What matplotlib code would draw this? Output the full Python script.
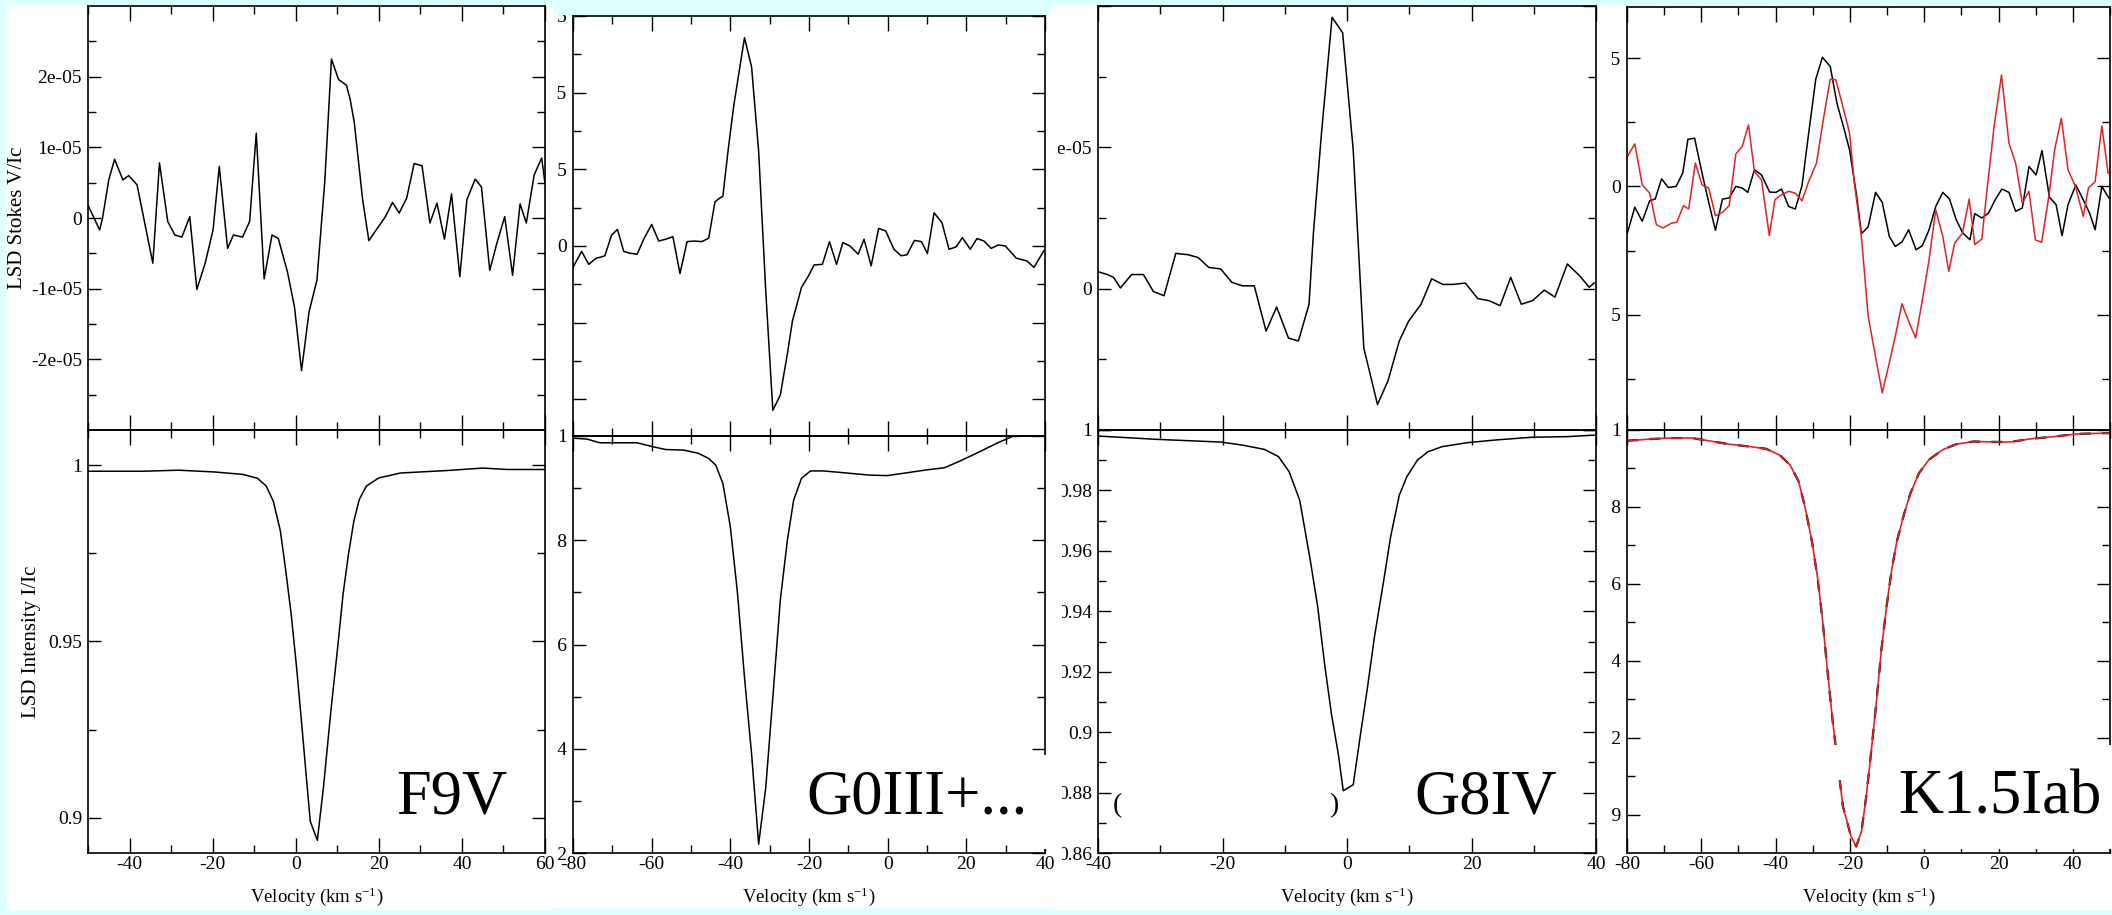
import numpy as np
import matplotlib
matplotlib.use('Agg')
import matplotlib.pyplot as plt
from matplotlib.patches import Rectangle
from matplotlib.transforms import Bbox, TransformedBbox
from matplotlib.ticker import FixedLocator

plt.rcParams['font.family'] = ['Liberation Serif', 'DejaVu Serif']
plt.rcParams['mathtext.fontset'] = 'custom'
plt.rcParams['mathtext.rm'] = 'Liberation Serif'
plt.rcParams['mathtext.it'] = 'Liberation Serif:italic'

# ---------------- data (Stokes V in units of 1e-5) ----------------
# F9V
f9v_v_vel = [-50.0, -48.7, -47.2, -46.5, -45.0, -43.6, -41.6, -40.2, -38.2, -34.4, -32.8, -30.8, -29.1,
             -27.4, -25.5, -23.8, -21.8, -19.9, -18.4, -16.4, -15.0, -12.8, -11.1, -9.5, -7.6, -5.7,
             -4.2, -2.0, -0.3, 1.4, 3.2, 5.1, 7.0, 8.6, 10.3, 12.2, 13.1, 14.1, 16.1, 17.6, 19.6,
             21.6, 23.3, 24.9, 26.7, 28.5, 30.4, 32.3, 34.0, 35.8, 37.5, 39.5, 41.2, 43.2, 44.7,
             46.7, 48.4, 50.3, 52.2, 54.0, 55.5, 57.4, 59.2, 60.0]
f9v_stokes = [0.18, 0.02, -0.17, 0.0, 0.54, 0.83, 0.54, 0.60, 0.47, -0.64, 0.78, -0.05, -0.24,
              -0.27, 0.02, -1.01, -0.64, -0.17, 0.73, -0.43, -0.24, -0.27, -0.05, 1.20, -0.86, -0.24,
              -0.29, -0.76, -1.26, -2.16, -1.33, -0.88, 0.52, 2.25, 1.96, 1.88, 1.68, 1.35, 0.26, -0.32,
              -0.15, 0.02, 0.22, 0.07, 0.28, 0.77, 0.74, -0.07, 0.21, -0.30, 0.34, -0.83, 0.26, 0.55,
              0.44, -0.74, -0.36, 0.02, -0.81, 0.20, -0.07, 0.61, 0.85, 0.49]
f9v_i_vel = [-50.0, -36.8, -28.2, -19.6, -12.7, -9.2, -7.1, -5.4, -3.7, -2.4, -1.1, 0.2, 1.5, 2.4,
             3.5, 5.2, 6.7, 8.4, 10.1, 11.4, 12.7, 14.0, 15.3, 17.0, 20.0, 25.2, 36.4, 45.0, 51.0, 60.0]
f9v_int = [0.9983, 0.9983, 0.9986, 0.9981, 0.9974, 0.9963, 0.9941, 0.9898, 0.9814, 0.9701, 0.9578,
           0.9427, 0.9258, 0.9136, 0.8990, 0.8936, 0.9089, 0.9296, 0.9484, 0.9635, 0.9748, 0.9842,
           0.9903, 0.9941, 0.9964, 0.9978, 0.9985, 0.9992, 0.9988, 0.9988]

# G0III+...
g0_v_vel = [-80.0, -77.8, -76.0, -74.1, -72.8, -71.9, -70.2, -68.7, -67.1, -65.5, -63.7, -61.9, -60.0,
            -58.2, -56.4, -54.6, -52.8, -51.0, -49.1, -47.3, -45.5, -43.9, -42.8, -41.9, -40.5, -39.1,
            -36.4, -34.6, -32.8, -31.0, -29.2, -27.3, -25.5, -24.2, -21.9, -20.1, -18.7, -16.6, -14.8,
            -13.0, -11.4, -9.6, -7.5, -6.0, -4.2, -2.3, -0.5, 1.6, 3.4, 4.9, 6.8, 8.6, 10.1, 11.8,
            13.8, 15.6, 17.4, 19.0, 21.0, 22.7, 24.5, 26.3, 28.1, 29.9, 32.7, 35.4, 37.2, 39.7]
g0_stokes = [-0.70, -0.18, -0.60, -0.40, -0.36, -0.32, 0.35, 0.54, -0.18, -0.24, -0.27, 0.25, 0.70,
             0.16, 0.22, 0.30, -0.90, 0.14, 0.16, 0.14, 0.25, 1.44, 1.55, 1.62, 3.19, 4.60, 6.79, 5.84,
             3.08, -1.46, -5.36, -4.87, -3.52, -2.44, -1.35, -0.97, -0.62, -0.60, 0.14, -0.60, 0.11,
             0.0, -0.27, 0.22, -0.65, 0.57, 0.49, -0.11, -0.32, -0.29, 0.18, 0.14, -0.25, 1.08, 0.76,
             -0.11, -0.03, 0.27, -0.11, 0.24, 0.16, -0.08, 0.03, 0.0, -0.40, -0.49, -0.70, -0.16]
g0_i_vel = [-80.0, -76.4, -73.2, -63.7, -60.0, -56.4, -51.9, -48.2, -45.5, -43.7, -41.9, -40.0, -38.2,
            -36.4, -34.6, -32.8, -31.0, -29.2, -27.3, -25.5, -23.9, -21.9, -19.6, -16.4, -11.9, -4.6,
            -0.1, 5.4, 9.9, 14.4, 18.1, 22.6, 28.0, 31.7, 36.2, 39.7]
g0_int = [0.9996, 0.9994, 0.9987, 0.9987, 0.9980, 0.9974, 0.9973, 0.9967, 0.9957, 0.9944, 0.9909,
          0.9826, 0.9700, 0.9537, 0.9390, 0.9217, 0.9325, 0.9498, 0.9685, 0.9800, 0.9877, 0.9919,
          0.9933, 0.9933, 0.9930, 0.9925, 0.9924, 0.9930, 0.9935, 0.9939, 0.9951, 0.9967, 0.9987,
          0.9999, 1.0, 1.0]

# G8IV
g8_v_vel = [-40.0, -38.5, -37.5, -36.4, -34.6, -32.7, -31.1, -29.4, -27.5, -25.5, -23.9, -22.2, -20.3,
            -18.5, -16.8, -14.9, -13.0, -11.3, -9.4, -7.8, -6.1, -5.4, -4.1, -2.4, -0.7, 1.0, 2.7, 4.9,
            6.6, 8.4, 9.9, 11.9, 13.6, 15.4, 17.1, 19.0, 21.0, 22.8, 24.6, 26.3, 28.0, 29.8, 31.7,
            33.4, 35.4, 37.4, 38.9, 39.7]
g8_stokes = [0.12, 0.10, 0.08, 0.005, 0.10, 0.10, -0.02, -0.05, 0.25, 0.24, 0.22, 0.15, 0.14, 0.045,
             0.02, 0.02, -0.30, -0.13, -0.35, -0.37, -0.11, 0.39, 1.10, 1.92, 1.81, 0.98, -0.42, -0.82,
             -0.65, -0.37, -0.23, -0.11, 0.07, 0.03, 0.03, 0.04, -0.07, -0.085, -0.12, 0.08, -0.11,
             -0.085, -0.01, -0.06, 0.175, 0.09, 0.01, 0.04]
g8_i_vel = [-40.0, -30.5, -25.9, -20.2, -16.8, -13.3, -11.0, -9.3, -7.6, -5.9, -4.7, -3.6, -2.5, -1.4,
            -0.6, 1.0, 2.1, 3.3, 4.4, 5.9, 7.0, 8.4, 9.6, 11.3, 13.0, 15.3, 19.3, 23.9, 29.7, 35.4, 39.7]
g8_int = [0.9980, 0.9969, 0.9965, 0.9960, 0.9950, 0.9936, 0.9912, 0.9862, 0.9768, 0.9569, 0.9414,
          0.9226, 0.9060, 0.8928, 0.8806, 0.8826, 0.8983, 0.9149, 0.9314, 0.9502, 0.9646, 0.9784,
          0.9845, 0.9900, 0.9928, 0.9945, 0.9958, 0.9967, 0.9976, 0.9978, 0.9983]

# K1.5Iab (two epochs)
k1_vel_a = [-79.9, -77.9, -75.9, -73.9, -72.4, -70.7, -68.9, -66.8, -65.0, -63.6, -61.8, -59.8, -57.8,
            -56.2, -54.3, -52.5, -50.7, -49.0, -47.5, -45.7, -43.8, -41.6, -39.9, -38.4, -36.5, -34.7,
            -32.9, -31.1, -29.2, -27.4, -25.3, -23.5, -21.7, -20.1, -18.3, -16.9, -15.1, -13.1, -11.3,
            -9.4, -7.8, -6.0, -4.2, -2.2, -0.5, 1.3, 3.1, 5.0, 6.8, 8.6, 10.4, 12.3, 13.6, 15.5, 17.3,
            19.1, 20.9, 22.8, 24.6, 26.4, 28.2, 30.1, 31.7, 33.7, 35.5, 37.1, 38.7, 40.8, 42.8, 44.5,
            46.0, 47.8, 49.7]
k1_stokes_a = [-1.82, -0.81, -1.36, -0.56, -0.49, 0.30, -0.04, 0.0, 0.52, 1.84, 1.88, 0.52, -0.75,
               -1.71, -0.49, -0.45, 0.0, -0.06, -0.23, 0.65, 0.45, -0.22, -0.23, -0.10, -0.78, -0.88,
               0.03, 2.08, 4.18, 5.04, 4.68, 3.25, 2.31, 1.43, -0.26, -1.84, -1.58, -0.23, -0.62, -1.95,
               -2.34, -2.17, -1.69, -2.47, -2.31, -1.69, -0.78, -0.23, -0.49, -1.30, -1.82, -2.08, -1.06,
               -1.23, -1.04, -0.52, -0.10, -0.23, -0.97, -0.84, 0.78, 0.45, 1.40, -0.42, -0.71, -1.92,
               -0.71, 0.06, -0.52, -1.04, -1.69, 0.0, -0.45]
k1_vel_b = [-79.9, -77.9, -75.9, -73.9, -72.1, -70.3, -68.0, -66.6, -64.8, -63.4, -61.6, -59.8, -58.0,
            -56.2, -54.3, -52.5, -50.7, -49.0, -47.3, -45.7, -43.8, -41.7, -40.2, -38.4, -36.5, -34.7,
            -32.9, -31.1, -29.0, -27.1, -25.3, -23.8, -21.9, -20.1, -18.8, -16.9, -15.1, -13.3, -11.3,
            -9.4, -7.6, -6.0, -4.2, -2.3, -0.5, 1.3, 3.1, 5.0, 6.6, 8.2, 10.3, 12.1, 13.6, 15.5, 16.8,
            18.8, 20.8, 22.8, 24.6, 26.4, 28.2, 29.9, 31.6, 33.4, 35.1, 36.9, 38.7, 40.7, 42.8, 44.2,
            46.0, 47.8, 49.5]
k1_stokes_b = [1.17, 1.66, 0.06, -0.26, -1.49, -1.62, -1.43, -1.40, -0.75, -0.88, 0.91, 0.06, -0.06,
               -1.14, -1.01, -0.75, 1.27, 1.56, 2.40, 0.58, 0.26, -1.92, -0.52, -0.32, -0.19, -0.26,
               -0.56, 0.19, 0.91, 2.66, 4.18, 4.16, 3.12, 2.08, 0.13, -1.95, -5.06, -6.49, -8.05, -6.88,
               -5.71, -4.57, -5.26, -5.91, -4.42, -2.86, -0.91, -1.95, -3.31, -2.21, -1.82, -0.49, -2.27,
               -2.05, -0.26, 2.34, 4.35, 1.69, 0.91, -0.65, -0.19, -2.08, -2.18, -0.52, 1.43, 2.66, 0.65,
               0.0, -1.17, -0.06, 0.19, 2.36, 0.52]
k1_i_vel = [-80.0, -74.4, -68.9, -62.5, -58.0, -52.5, -47.0, -42.5, -38.8, -36.1, -33.8, -32.0, -30.2,
            -28.8, -27.4, -26.1, -24.7, -23.3, -21.9, -19.7, -18.3, -16.9, -15.6, -14.2, -12.8, -11.5,
            -10.1, -8.7, -7.4, -5.5, -3.7, -1.4, 1.3, 5.0, 8.6, 13.2, 19.6, 23.2, 28.7, 35.1, 41.5, 49.7]
k1_int = [0.9972, 0.9976, 0.9979, 0.9979, 0.9972, 0.9963, 0.9957, 0.9951, 0.9934, 0.9909, 0.9866,
          0.9796, 0.9709, 0.9622, 0.9509, 0.9379, 0.9248, 0.9135, 0.9022, 0.8943, 0.8917, 0.8956,
          0.9048, 0.9170, 0.9300, 0.9431, 0.9544, 0.9640, 0.9709, 0.9779, 0.9836, 0.9888, 0.9923,
          0.9949, 0.9963, 0.9970, 0.9969, 0.9969, 0.9977, 0.9983, 0.9990, 0.9992]

star_names = ['F9V', 'G0III+...', 'G8IV', 'K1.5Iab']

# axis ranges / ticks (velocity in km/s, V in units of 1e-5)
vel_ranges = [(-50, 60), (-80, 40), (-40, 40), (-80, 50)]
v_ranges = [(-3.0, 3.0), (-6.2, 7.5), (-1.0, 2.0), (-9.5, 7.0)]
v_major = [[-2, -1, 0, 1, 2], [-5, -2.5, 0, 2.5, 5, 7.5], [-1, 0, 1, 2], [-5, 0, 5]]
v_labels = [['-2e-05', '-1e-05', '0', '1e-05', '2e-05'],
            ['', '', '0', '2.5e-05', '5e-05', '7.5e-05'],
            ['', '0', '1e-05', ''],
            ['-5e-05', '0', '5e-05']]
v_minor = [[-2.5, -1.5, -0.5, 0.5, 1.5, 2.5], [-3.75, -1.25, 1.25, 3.75, 6.25],
           [-0.5, 0.5, 1.5], [-7.5, -2.5, 2.5]]
i_ranges = [(0.89, 1.01), (0.92, 1.0), (0.86, 1.0), (0.89, 1.0)]
i_major = [[0.9, 0.95, 1.0], [0.92, 0.94, 0.96, 0.98, 1.0],
           [0.86, 0.88, 0.9, 0.92, 0.94, 0.96, 0.98, 1.0], [0.9, 0.92, 0.94, 0.96, 0.98, 1.0]]
i_labels = [['0.9', '0.95', '1'], ['0.92', '0.94', '0.96', '0.98', '1'],
            ['0.86', '0.88', '0.9', '0.92', '0.94', '0.96', '0.98', '1'],
            ['0.9', '0.92', '0.94', '0.96', '0.98', '1']]
i_minor = [[0.925, 0.975], [0.93, 0.95, 0.97, 0.99], [0.87, 0.89, 0.91, 0.93, 0.95, 0.97, 0.99],
           [0.91, 0.93, 0.95, 0.97, 0.99]]

# ---------------- layout (pixels, origin top-left) ----------------
W, H = 2112, 915
fig = plt.figure(figsize=(W / 100, H / 100), dpi=100)
fig.patch.set_facecolor('#e0ffff')


def box(x0, y0, x1, y1):
    return [x0 / W, 1 - y1 / H, (x1 - x0) / W, (y1 - y0) / H]


def white_patch(x0, y0, x1, y1, z):
    fig.add_artist(Rectangle((x0 / W, 1 - y1 / H), (x1 - x0) / W, (y1 - y0) / H,
                             transform=fig.transFigure, facecolor='white', edgecolor='none',
                             zorder=z))


# each pasted screenshot of the collage
regions = [(7, 5, 553, 910), (553, 15, 1051, 908), (1051, 5, 1608, 910), (1608, 6, 2112, 910)]
# axes frame: x0, x1, top, divider, bottom
frames = [(88, 545, 6, 430, 853), (573, 1045, 16, 436, 853),
          (1098, 1596, 6, 430, 853), (1627, 2110, 7, 430, 853)]
# left edge where each panel's y tick labels get cut by the neighbouring screenshot
cut_top = [0, 557, 1058, 1612]
cut_bot = [0, 557, 1062, 1612]

for r in regions:
    white_patch(*r, z=-10)

RED = '#dd2424'
stokes_sets = [[(f9v_v_vel, f9v_stokes, 'k')], [(g0_v_vel, g0_stokes, 'k')],
               [(g8_v_vel, g8_stokes, 'k')],
               [(k1_vel_a, k1_stokes_a, 'k'), (k1_vel_b, k1_stokes_b, RED)]]
int_sets = [(f9v_i_vel, f9v_int), (g0_i_vel, g0_int), (g8_i_vel, g8_int), (k1_i_vel, k1_int)]


def style(ax, xr):
    ax.set_facecolor('none')
    ax.set_xlim(*xr)
    ax.xaxis.set_major_locator(FixedLocator(np.arange(-80, 61, 20)))
    ax.xaxis.set_minor_locator(FixedLocator(np.arange(-70, 61, 20)))
    ax.tick_params(which='both', direction='in', top=True, right=True, width=1.0,
                   labelsize=14, colors='black')
    ax.tick_params(axis='x', which='major', length=11, pad=2)
    ax.tick_params(axis='x', which='minor', length=6)
    ax.tick_params(axis='y', which='major', length=9.5, pad=4.3)
    ax.tick_params(axis='y', which='minor', length=5.5)
    for s in ax.spines.values():
        s.set_linewidth(1.2)


def clip_labels(ax, xcut, k):
    if xcut <= 0:
        return
    r = regions[k]
    bb = TransformedBbox(Bbox([[xcut / W, 1 - r[3] / H], [r[2] / W, 1 - r[1] / H]]), fig.transFigure)
    for lab in ax.get_yticklabels():
        lab.set_clip_box(bb)
        lab.set_clip_on(True)


for k in range(4):
    x0, x1, top, mid, bot = frames[k]

    axv = fig.add_axes(box(x0, top, x1, mid))
    style(axv, vel_ranges[k])
    for vel, sv, c in stokes_sets[k]:
        axv.plot(vel, np.array(sv) * 1e-5, color=c, lw=1.1)
    axv.set_ylim(v_ranges[k][0] * 1e-5, v_ranges[k][1] * 1e-5)
    axv.set_yticks(np.array(v_major[k]) * 1e-5, v_labels[k])
    axv.set_yticks(np.array(v_minor[k]) * 1e-5, minor=True)
    axv.tick_params(axis='x', labelbottom=False)

    axi = fig.add_axes(box(x0, mid, x1, bot))
    style(axi, vel_ranges[k])
    vel, iv = int_sets[k]
    if k == 3:
        axi.plot(vel, iv, color='k', lw=1.6, ls=(0, (5, 5)))
        axi.plot(vel, iv, color=RED, lw=1.2)
    else:
        axi.plot(vel, iv, color='k', lw=1.1)
    axi.set_ylim(*i_ranges[k])
    axi.set_yticks(i_major[k], i_labels[k])
    axi.set_yticks(i_minor[k], minor=True)
    xt = [t for t in range(-80, 61, 20) if vel_ranges[k][0] <= t <= vel_ranges[k][1]]
    axi.set_xticks(xt, [str(t) for t in xt])
    axi.set_xlabel('Velocity (km s$^{-1}$)', fontsize=13.5, labelpad=9)

    clip_labels(axv, cut_top[k], k)
    clip_labels(axi, cut_bot[k], k)

    if k == 0:
        axv.set_ylabel('LSD Stokes V/Ic', fontsize=15)
        axi.set_ylabel('LSD Intensity I/Ic', fontsize=15)
        axv.yaxis.set_label_coords((27 - x0) / (x1 - x0), 0.5)
        axi.yaxis.set_label_coords((41 - x0) / (x1 - x0), 0.5)

# white boxes pasted over the plots (they hide bits of frame and curve)
white_patch(1030, 755, 1052, 849, z=5)
white_patch(1826, 745, 1845, 780, z=5)
white_patch(1890, 745, 2112, 849, z=5)

# spectral type labels
name_pos = [(507, 813), (1028, 813), (1557, 813), (2101, 813)]
for name, (px, py) in zip(star_names, name_pos):
    fig.text(px / W, 1 - py / H, name, fontsize=45, ha='right', va='baseline', zorder=6)

# remnants of a covered label in the G8IV panel
fig.text(1113 / W, 1 - 812 / H, '(', fontsize=20, ha='left', va='baseline')
fig.text(1329 / W, 1 - 812 / H, ')', fontsize=20, ha='left', va='baseline')

fig.savefig('out.png', dpi=100, facecolor=fig.get_facecolor())
